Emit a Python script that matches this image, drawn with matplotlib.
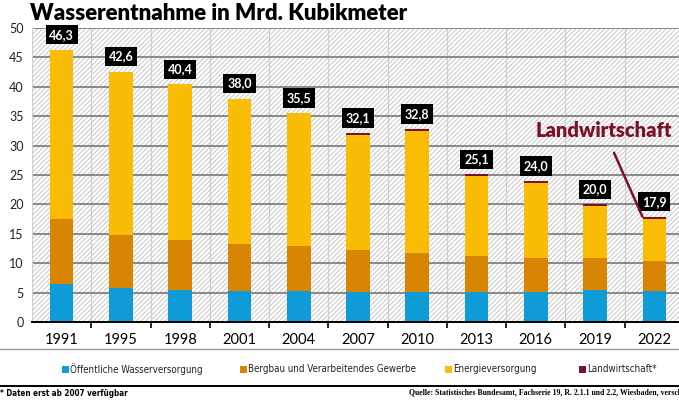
import matplotlib
matplotlib.use("Agg")
import matplotlib.pyplot as plt
import numpy as np
from matplotlib.patches import Rectangle
from matplotlib.lines import Line2D

years = ["1991", "1995", "1998", "2001", "2004", "2007", "2010", "2013", "2016", "2019", "2022"]
oeffentlich = [6.5, 5.8, 5.5, 5.3, 5.3, 5.1, 5.1, 5.1, 5.1, 5.4, 5.2]
bergbau = [11.0, 9.0, 8.5, 7.9, 7.7, 7.2, 6.7, 6.1, 5.8, 5.4, 5.2]
energie = [28.8, 27.8, 26.4, 24.8, 22.5, 19.5, 20.6, 13.6, 12.8, 8.9, 7.2]
landwirtschaft = [0, 0, 0, 0, 0, 0.3, 0.4, 0.3, 0.3, 0.3, 0.3]
totals = ["46,3", "42,6", "40,4", "38,0", "35,5", "32,1", "32,8", "25,1", "24,0", "20,0", "17,9"]

farben = ["#0f9bd7", "#d88504", "#fbbc05", "#7d1128"]
namen = ["Öffentliche Wasserversorgung", "Bergbau und Verarbeitendes Gewerbe",
         "Energieversorgung", "Landwirtschaft*"]

schmal = ["DejaVu Sans Condensed", "DejaVu Sans"]
plt.rcParams["font.family"] = ["Lato", "DejaVu Sans"]
plt.rcParams["hatch.color"] = "#bebebe"
plt.rcParams["hatch.linewidth"] = 0.6

fig = plt.figure(figsize=(6.79, 4.0), dpi=100)
ax = fig.add_axes([32 / 679, 1 - 322 / 400, 652 / 679, 294 / 400])

x = np.arange(len(years))
w = 0.40

# hintergrund schraffiert
ax.add_patch(Rectangle((0, 0), 1, 1, transform=ax.transAxes, facecolor="white",
                       edgecolor="#bebebe", hatch="///////", lw=0, zorder=0))

unten = np.zeros(len(years))
for werte, farbe in zip([oeffentlich, bergbau, energie, landwirtschaft], farben):
    ax.bar(x, werte, w, bottom=unten, color=farbe, zorder=3, linewidth=0)
    unten = unten + np.array(werte)

for xi, top, lab in zip(x, unten, totals):
    ax.annotate(lab, (xi, top), xytext=(0, 6.5), textcoords="offset points",
                ha="center", va="bottom", color="white", fontsize=9, fontweight="bold",
                bbox=dict(boxstyle="square,pad=0.3", fc="black", ec="none"), zorder=5)

ax.set_xlim(-0.5, len(years) - 0.5)
ax.set_ylim(0, 50)
ax.set_yticks(range(0, 51, 5))
ax.set_xticks(x)
ax.set_xticklabels(years, fontsize=10.5)
ax.set_xticks(x[:-1] + 0.5, minor=True)
ax.tick_params(axis="x", which="major", length=0, pad=8)
ax.tick_params(axis="x", which="minor", length=4, width=1.2, direction="out", color="black")
ax.tick_params(axis="y", length=0, labelsize=9, pad=6, labelcolor="#222222")
ax.yaxis.grid(True, color="#6e6e6e", lw=1.1, zorder=1)
ax.xaxis.grid(True, which="minor", color="#cfcfcf", lw=0.9, zorder=1)
ax.set_axisbelow(True)
for s in ["top", "right"]:
    ax.spines[s].set_visible(False)
ax.spines["left"].set_color("#cfcfcf")
ax.spines["bottom"].set_linewidth(1.4)
ax.spines["bottom"].set_zorder(4)

# Landwirtschaft hinweis
ax.annotate("Landwirtschaft", xy=(x[-1] - w / 2, unten[-1]), xytext=(9.15, 32.6),
            fontsize=14.5, fontweight="heavy", color=farben[3], ha="center", va="center",
            arrowprops=dict(arrowstyle="-", color=farben[3], lw=1.8,
                            shrinkA=8, shrinkB=0), zorder=6)

fig.text(30 / 679, 1 - 14 / 400, "Wasserentnahme in Mrd. Kubikmeter", fontsize=16,
         fontweight="heavy", va="center", ha="left")

# trennlinien
fig.add_artist(Line2D([0, 1], [1 - 349 / 400] * 2, color="#9a9a9a", lw=1))
fig.add_artist(Line2D([0, 1], [1 - 386 / 400] * 2, color="black", lw=1.4))

# legende
leg_x = [65, 243, 448, 582]
for lx, farbe, name in zip(leg_x, farben, namen):
    fig.add_artist(Rectangle(((lx - 3.5) / 679, 1 - 373 / 400), 7 / 679, 7 / 400,
                             facecolor=farbe, lw=0))
    fig.text((lx + 5) / 679, 1 - 369 / 400, name, fontsize=7, va="center", ha="left",
             color="#222222", family=schmal, fontstretch="condensed")

fig.text(0, 1 - 393 / 400, "* Daten erst ab 2007 verfügbar", fontsize=5.8, fontweight="bold",
         va="center", ha="left", family=schmal, fontstretch="condensed")
fig.text(409 / 679, 1 - 393 / 400,
         "Quelle: Statistisches Bundesamt, Fachserie 19, R. 2.1.1 und 2.2, Wiesbaden, verschiedene Jahrgänge",
         fontsize=5.6, fontweight="bold", family=["Liberation Serif", "DejaVu Serif"],
         va="center", ha="left")

fig.savefig("out.png", dpi=100)
